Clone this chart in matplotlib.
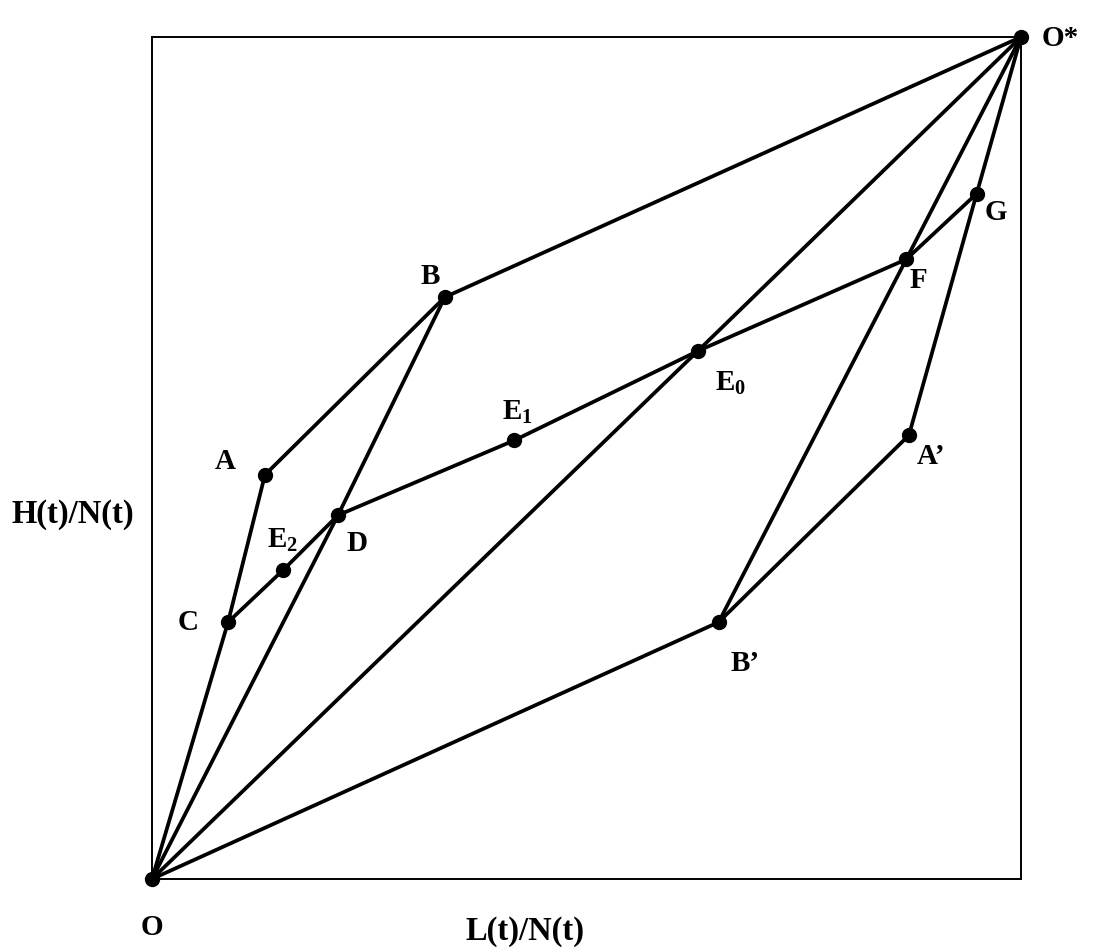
import matplotlib
matplotlib.use("Agg")
import matplotlib.pyplot as plt

plt.rcParams['font.family'] = ['Liberation Serif', 'DejaVu Serif']
plt.rcParams['font.weight'] = 'bold'
plt.rcParams['mathtext.fontset'] = 'custom'
plt.rcParams['mathtext.rm'] = 'Liberation Serif'
plt.rcParams['mathtext.bf'] = 'Liberation Serif:bold'

# punkter i diagrammet (andel av boksen)
names = ['O', 'O*', 'A', 'B', 'C', 'D', 'E2', 'E1', 'E0', 'F', 'G', "A'", "B'"]
xs = [0.0, 1.0, 0.130, 0.337, 0.0875, 0.214, 0.151, 0.417, 0.628, 0.868, 0.949, 0.871, 0.652]
ys = [0.0, 1.0, 0.480, 0.691, 0.305, 0.432, 0.367, 0.521, 0.627, 0.736, 0.814, 0.527, 0.305]

# kurver som går gjennom punktene
paths = [
    ['O', 'C', 'A', 'B', 'O*'],
    ['O', 'D', 'B'],
    ['C', 'E2', 'D', 'E1', 'E0', 'F', 'G'],
    ['O', 'E0', 'O*'],
    ['O', "B'", "A'", 'G', 'O*'],
    ["B'", 'F', 'O*'],
]

# etiketter: tekst og forskyvning i piksler
labels = {
    'O': ('O', (0, -48)),
    'O*': ('O*', (39, 0)),
    'A': ('A', (-40, 14)),
    'B': ('B', (-15, 22)),
    'C': ('C', (-40, 1)),
    'D': ('D', (19, -27)),
    'E2': ('$\\mathbf{E}_{\\mathrm{2}}$', (-1, 31)),
    'E1': ('$\\mathbf{E}_{\\mathrm{1}}$', (3, 29)),
    'E0': ('$\\mathbf{E}_{\\mathrm{0}}$', (33, -31)),
    'F': ('F', (12, -20)),
    'G': ('G', (19, -18)),
    "A'": ('A\u2019', (22, -20)),
    "B'": ('B\u2019', (27, -40)),
}

pos = dict(zip(names, zip(xs, ys)))

fig = plt.figure(figsize=(10.94, 9.53), dpi=100)
ax = fig.add_axes([152 / 1094, 73 / 953, 869 / 1094, 842 / 953])
ax.set_xlim(0, 1)
ax.set_ylim(0, 1)
ax.set_xticks([])
ax.set_yticks([])
for s in ax.spines.values():
    s.set_linewidth(1.4)

for p in paths:
    px = [pos[n][0] for n in p]
    py = [pos[n][1] for n in p]
    ax.plot(px, py, color='black', lw=2.7, clip_on=False, solid_capstyle='round')

ax.plot(xs, ys, 'o', color='black', ms=10, clip_on=False, zorder=5)

for n in names:
    txt, off = labels[n]
    ax.annotate(txt, pos[n], xytext=(off[0] * 0.72, off[1] * 0.72), textcoords='offset points',
                ha='center', va='center', fontsize=21, annotation_clip=False)

fig.text(73 / 1094, 1 - 515 / 953, 'H(t)/N(t)', ha='center', va='center', fontsize=23.5)
fig.text(525 / 1094, 1 - 932 / 953, 'L(t)/N(t)', ha='center', va='center', fontsize=23.5)

fig.savefig('out.png', dpi=100)
